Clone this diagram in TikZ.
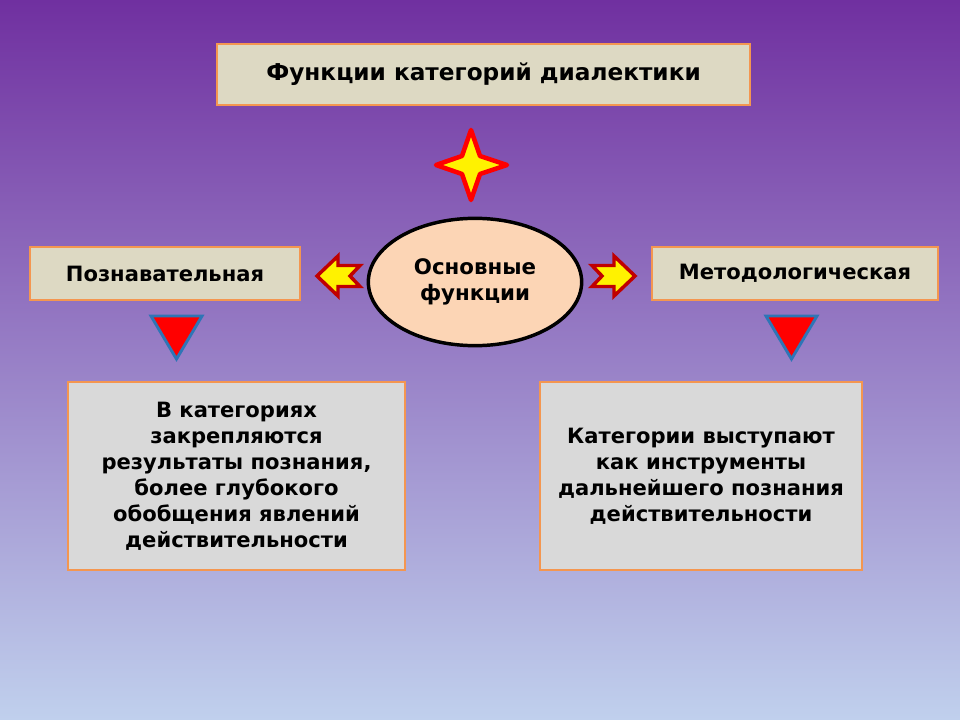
\documentclass[tikz,border=0pt]{standalone}
\usepackage{fontspec}
\setmainfont{DejaVu Sans}
\usetikzlibrary{shapes.geometric}

\definecolor{bgtop}{RGB}{112,48,160}
\definecolor{bgbottom}{RGB}{192,208,237}
\definecolor{boxedge}{RGB}{244,150,80}
\definecolor{titlefill}{RGB}{221,217,195}
\definecolor{textfill}{RGB}{217,217,217}
\definecolor{ovalfill}{RGB}{252,213,181}
\definecolor{arrowedge}{RGB}{192,0,0}
\definecolor{triedge}{RGB}{46,117,182}

\begin{document}
\begin{tikzpicture}[x=0.75pt,y=0.75pt,yscale=-1,xscale=1,
  catbox/.style={draw=boxedge,line width=2.2pt,inner sep=0pt,align=center,
    font=\bfseries\fontsize{15.8}{19.5}\selectfont},
  yellowarrow/.style={draw=arrowedge,fill=yellow,line width=2.6pt,line join=miter},
  redtri/.style={draw=triedge,fill=red,line width=2.2pt,line join=miter}]
%Background
\shade [top color=bgtop,bottom color=bgbottom] (0,0) rectangle (960,720);
\useasboundingbox (0,0) rectangle (960,720);

%Title
\node [catbox,fill=titlefill,minimum width=399.75pt,minimum height=45.75pt,
  font=\bfseries\fontsize{17.4}{19.5}\selectfont] (title) at (483.5,74.5)
  {Функции категорий диалектики};

%Shape: Star
\draw [draw=red,fill=yellow,line width=3.4pt,line join=round]
  (471,130) -- (480,156) -- (507,165) -- (480,174) -- (471,200)
  -- (462,174) -- (436,165) -- (462,156) -- cycle;

%Shape: Ellipse
\node [ellipse,draw=black,fill=ovalfill,line width=2.6pt,inner sep=0pt,
  minimum width=160pt,minimum height=95.5pt,align=center,
  font=\bfseries\fontsize{16}{19.5}\selectfont] (main) at (475,282)
  {Основные\\функции};

%Side boxes
\node [catbox,fill=titlefill,minimum width=202.5pt,minimum height=39.75pt] (cogn) at (165,273.5)
  {Познавательная};
\node [catbox,fill=titlefill,minimum width=214.5pt,minimum height=39.75pt] (meth) at (795,273.5)
  {Методологическая};

%Shape: Notched Left Arrow
\draw [yellowarrow] (317,276) -- (338,256) -- (338,265.5) -- (360,265.5) -- (350,276)
  -- (360,286.5) -- (338,286.5) -- (338,296) -- cycle;
%Shape: Notched Right Arrow
\draw [yellowarrow] (635,276) -- (614,256) -- (614,265.5) -- (592,265.5) -- (602,276)
  -- (592,286.5) -- (614,286.5) -- (614,296) -- cycle;

%Shape: Triangles
\draw [redtri] (151,316) -- (202,316) -- (176.5,359) -- cycle;
\draw [redtri] (766,316) -- (817,316) -- (791.5,359) -- cycle;

%Text boxes
\node [catbox,fill=textfill,minimum width=252.75pt,minimum height=141pt] (cognText) at (236.5,476)
  {В категориях\\закрепляются\\результаты познания,\\более глубокого\\обобщения явлений\\действительности};
\node [catbox,fill=textfill,minimum width=241.5pt,minimum height=141pt] (methText) at (701,476)
  {Категории выступают\\как инструменты\\дальнейшего познания\\действительности};

\end{tikzpicture}
\end{document}
